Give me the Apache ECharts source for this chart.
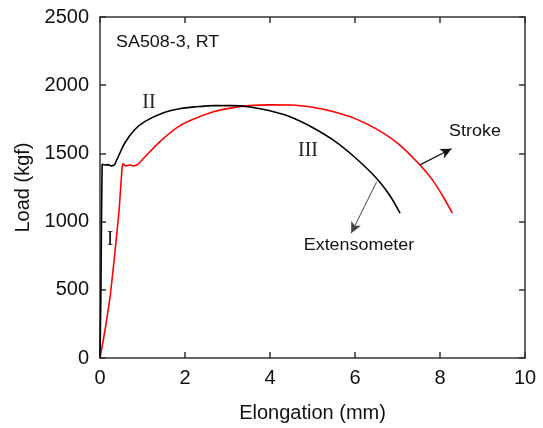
<!DOCTYPE html>
<html>
<head>
<meta charset="utf-8">
<script src="https://cdn.jsdelivr.net/npm/echarts@6/dist/echarts.min.js"></script>
<style>html,body{margin:0;padding:0;background:#fff}#c{width:543px;height:428px}</style>
</head>
<body>
<div id="c"></div>
<script>
// Extensometer (black) – elastic/yield part and hardening part
const extYieldX = [0, 0.02, 0.035, 0.05, 0.12, 0.2, 0.26, 0.34];
const extYieldY = [0, 450, 1000, 1420, 1415, 1418, 1408, 1414];
const extHardX = [0.34, 0.45, 0.59, 0.82, 1.06, 1.45, 1.84, 2.24, 2.7, 3.1, 3.53, 4.0, 4.5, 5.0, 5.5, 6.0, 6.5, 6.8, 7.06];
const extHardY = [1414, 1490, 1580, 1675, 1735, 1793, 1825, 1841, 1850, 1850, 1840, 1812, 1765, 1690, 1595, 1470, 1320, 1200, 1062];
// Stroke (red)
const strokeYieldX = [0, 0.12, 0.24, 0.35, 0.45, 0.52, 0.54, 0.6, 0.7, 0.8, 0.9];
const strokeYieldY = [0, 207, 451, 768, 1085, 1400, 1425, 1408, 1415, 1408, 1420];
const strokeHardX = [0.9, 1.06, 1.45, 1.84, 2.24, 2.67, 3.0, 3.5, 4.0, 4.5, 5.0, 5.5, 6.0, 6.5, 7.0, 7.5, 7.8, 8.05, 8.29];
const strokeHardY = [1420, 1475, 1598, 1695, 1756, 1805, 1828, 1850, 1856, 1855, 1838, 1805, 1755, 1680, 1575, 1425, 1315, 1195, 1062];
// Arrow annotations [x0, y0, x1, y1]
const strokeArrow = [7.53, 1416, 8.27, 1534];
const extArrow = [6.51, 1292, 5.91, 915];
// Axis ranges
const xRange = [0, 10, 2];
const yRange = [0, 2500, 500];

const pairs = (xs, ys) => xs.map((x, i) => [x, ys[i]]);
const chart = echarts.init(document.getElementById('c'));
const axisLine = { show: true, onZero: false, lineStyle: { color: '#333', width: 1.5 } };
const tick = { show: true, inside: true, length: 6, lineStyle: { color: '#333', width: 1.5 } };
const lbl = { color: '#111', fontSize: 20, fontFamily: 'Liberation Sans, Arial, sans-serif', formatter: v => String(v) };

const arrowLine = (a, color, w) => ({
  silent: true, symbol: ['none', 'arrow'], symbolSize: [8, 11], label: { show: false },
  lineStyle: { color: color, width: w, type: 'solid' },
  data: [[{ coord: [a[0], a[1]] }, { coord: [a[2], a[3]] }]]
});

chart.setOption({
  animation: false,
  grid: { left: 100, right: 18, top: 17, bottom: 70 },
  xAxis: [
    { type: 'value', min: xRange[0], max: xRange[1], interval: xRange[2],
      name: 'Elongation (mm)', nameLocation: 'middle', nameGap: 45,
      nameTextStyle: { color: '#111', fontSize: 20, fontFamily: 'Liberation Sans, Arial, sans-serif' },
      axisLine: axisLine, axisTick: tick, splitLine: { show: false },
      axisLabel: Object.assign({ margin: 10 }, lbl) },
    { type: 'value', position: 'top', min: xRange[0], max: xRange[1], interval: xRange[2],
      axisLine: axisLine, axisTick: tick, splitLine: { show: false }, axisLabel: { show: false } }
  ],
  yAxis: [
    { type: 'value', min: yRange[0], max: yRange[1], interval: yRange[2],
      name: 'Load (kgf)', nameLocation: 'middle', nameGap: 62,
      nameTextStyle: { color: '#111', fontSize: 20, fontFamily: 'Liberation Sans, Arial, sans-serif' },
      axisLine: axisLine, axisTick: tick, splitLine: { show: false },
      axisLabel: Object.assign({ margin: 11 }, lbl) },
    { type: 'value', position: 'right', min: yRange[0], max: yRange[1], interval: yRange[2],
      axisLine: axisLine, axisTick: tick, splitLine: { show: false }, axisLabel: { show: false } }
  ],
  series: [
    { type: 'line', name: 'Extensometer', data: pairs(extYieldX, extYieldY), showSymbol: false,
      lineStyle: { color: '#000', width: 1.6 }, z: 3 },
    { type: 'line', name: 'Extensometer', data: pairs(extHardX, extHardY), showSymbol: false,
      smooth: 0.35,
      lineStyle: { color: '#000', width: 1.6 }, z: 3,
      markLine: arrowLine(extArrow, '#444', 1) },
    { type: 'line', name: 'Stroke', data: pairs(strokeYieldX, strokeYieldY), showSymbol: false,
      lineStyle: { color: '#ff0000', width: 1.6 }, z: 2 },
    { type: 'line', name: 'Stroke', data: pairs(strokeHardX, strokeHardY), showSymbol: false,
      smooth: 0.35,
      lineStyle: { color: '#ff0000', width: 1.6 }, z: 2,
      markLine: arrowLine(strokeArrow, '#111', 1.2) }
  ],
  graphic: [
    { type: 'text', x: 116, y: 43, scaleX: 1.12, style: { text: 'SA508-3, RT', fill: '#111', font: '16px "Liberation Sans", Arial, sans-serif', align: 'left', verticalAlign: 'middle' } },
    { type: 'text', x: 149, y: 103, style: { text: 'II', fill: '#222', font: '20px "Liberation Serif", "Times New Roman", serif', align: 'center', verticalAlign: 'middle' } },
    { type: 'text', x: 110, y: 240, style: { text: 'I', fill: '#222', font: '20px "Liberation Serif", "Times New Roman", serif', align: 'center', verticalAlign: 'middle' } },
    { type: 'text', x: 308, y: 151, style: { text: 'III', fill: '#222', font: '20px "Liberation Serif", "Times New Roman", serif', align: 'center', verticalAlign: 'middle' } },
    { type: 'text', x: 475, y: 132, scaleX: 1.12, style: { text: 'Stroke', fill: '#111', font: '16px "Liberation Sans", Arial, sans-serif', align: 'center', verticalAlign: 'middle' } },
    { type: 'text', x: 359, y: 246, scaleX: 1.12, style: { text: 'Extensometer', fill: '#111', font: '16px "Liberation Sans", Arial, sans-serif', align: 'center', verticalAlign: 'middle' } }
  ]
});
</script>
</body>
</html>
